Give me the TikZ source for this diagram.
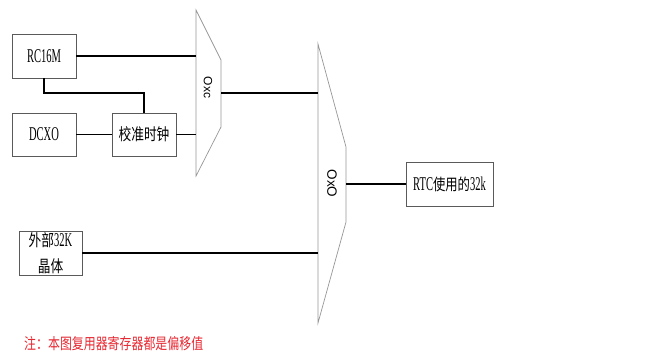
\documentclass[tikz,border=0pt]{standalone}
\usepackage{fontspec}
\newfontfamily\lat{Liberation Serif}[FakeStretch=0.54]
\newfontfamily\cjk{Noto Sans CJK SC}[FakeStretch=0.77]
\newfontfamily\muxfont{Liberation Sans}
\definecolor{boxgray}{RGB}{90,90,90}
\definecolor{muxgray}{RGB}{150,150,150}
\definecolor{notered}{RGB}{230,40,50}
\tikzset{
  blk/.style={draw=boxgray, line width=0.8pt, inner sep=0pt, minimum width=#1, minimum height=44pt, fill=white},
  wire/.style={draw=black, line width=1.8pt},
  muxshape/.style={draw=muxgray, line width=0.7pt},
  lt/.style={font=\lat\fontsize{19.5}{22}\selectfont},
  ct/.style={font=\cjk\fontsize{16.5}{19}\selectfont},
}
\begin{document}
\begin{tikzpicture}[x=1pt,y=-1pt]
\useasboundingbox (0,0) rectangle (648,356);
% boxes
\node[blk=64pt, lt] (rc) at (44,56) {RC16M};
\node[blk=64pt, minimum height=43pt, lt] (dcxo) at (44,134.5) {DCXO};
\node[blk=64pt, minimum height=43pt, ct] (cal) at (144,134.5) {校准时钟};
\node[blk=63pt, align=center, font=\fontsize{16.5}{29}\selectfont] (ext) at (50.5,253.5)
  {{\cjk 外部}{\lat\fontsize{19.5}{22}\selectfont 32K}\\[-3pt]{\cjk 晶体}};
\node[blk=87pt] (rtc) at (449.5,184)
  {{\lat\fontsize{19.5}{22}\selectfont RTC}{\cjk\fontsize{16}{19}\selectfont 使用的}{\lat\fontsize{19.5}{22}\selectfont 32k}};
% muxes
\draw[muxshape] (196,10) -- (221,60) -- (221,127) -- (196,176) -- cycle;
\draw[muxshape] (318,44) -- (346,147) -- (346,222) -- (318,323) -- cycle;
\node[rotate=-90, font=\muxfont\fontsize{12}{14}\selectfont, inner sep=0pt] (m1lab) at (208,87.5) {Oxc};
\node[rotate=-90, font=\muxfont\fontsize{13.5}{15}\selectfont, inner sep=0pt] (m2lab) at (332,183.5) {OxO};
% ports
\coordinate (m1a) at (196,56);
\coordinate (m1b) at (196,134.5);
\coordinate (m1o) at (221,93);
\coordinate (m2a) at (318,93);
\coordinate (m2b) at (318,253);
\coordinate (m2o) at (346,184);
\coordinate (bend) at (144,93);
% wires
\draw[wire] (rc.east) -- (m1a);
\draw[wire] (rc.south) |- (bend) -- (cal.north);
\draw[wire] (dcxo.east) -- (cal.west);
\draw[wire] (cal.east) -- (m1b);
\draw[wire] (m1o) -- (m2a);
\draw[wire] (ext.east |- m2b) -- (m2b);
\draw[wire] (m2o) -- (rtc.west);
% note
\node[anchor=west, inner sep=0pt, text=notered, font=\cjk\fontsize{15.5}{18}\selectfont] (note) at (24,344) {注：本图复用器寄存器都是偏移值};
\end{tikzpicture}
\end{document}
